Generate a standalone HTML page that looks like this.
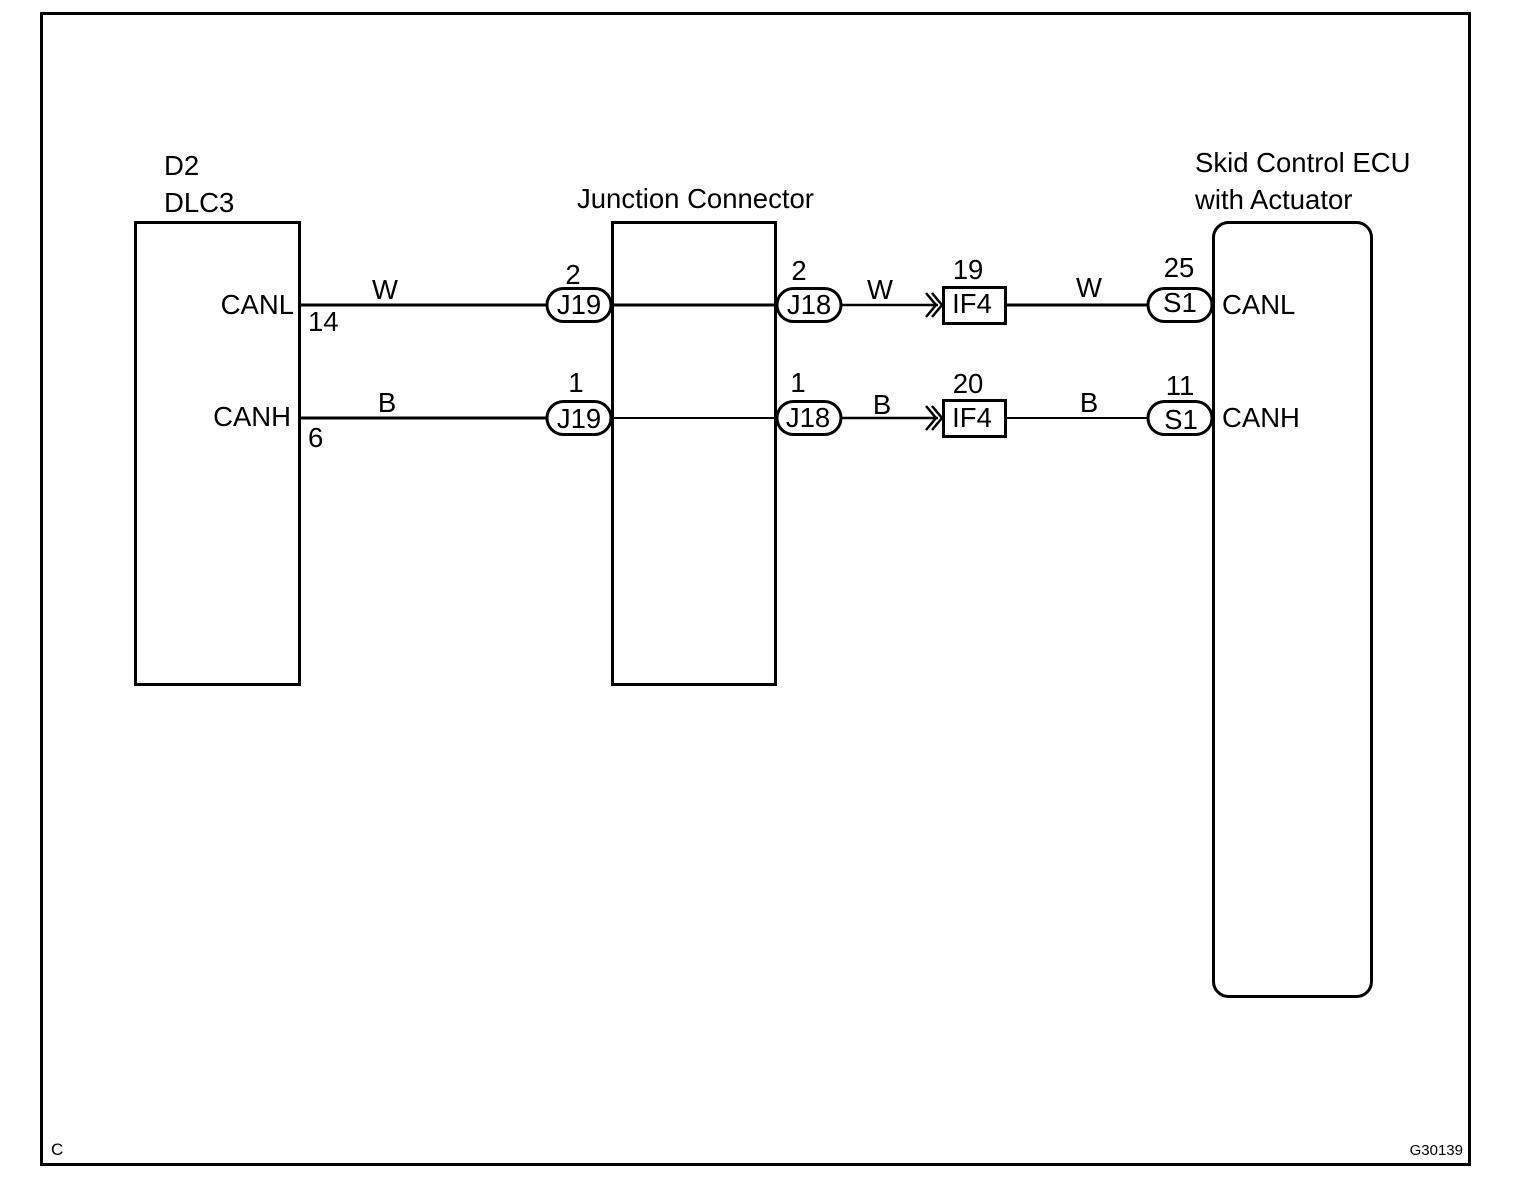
<!DOCTYPE html>
<html><head><meta charset="utf-8"><style>
html,body{margin:0;padding:0;background:#fff;}
svg{display:block;}
text{font-family:"Liberation Sans",Arial,sans-serif;fill:#000;}
</style></head><body>
<svg width="1520" height="1192" viewBox="0 0 1520 1192" xmlns="http://www.w3.org/2000/svg">
<rect x="41.5" y="13.5" width="1428" height="1151" fill="none" stroke="#000" stroke-width="3"/>
<g fill="none" stroke="#000" stroke-width="3">
<rect x="135.5" y="222.5" width="164" height="462"/>
<rect x="612.5" y="222.5" width="163" height="462"/>
<rect x="1213.5" y="222.5" width="158" height="774" rx="15" ry="15"/>
<line x1="300" y1="305" x2="546" y2="305"/>
<line x1="300" y1="418" x2="546" y2="418"/>
<line x1="612" y1="305" x2="776" y2="305"/>
<line x1="612" y1="418" x2="776" y2="418" stroke-width="2"/>
<line x1="840" y1="305" x2="938" y2="305" stroke-width="2.5"/>
<line x1="840" y1="418" x2="938" y2="418" stroke-width="2.5"/>
<line x1="1006" y1="305" x2="1148" y2="305"/>
<line x1="1006" y1="418" x2="1148" y2="418" stroke-width="2"/>
<rect x="547" y="288.5" width="64" height="33" rx="16.5"/>
<rect x="547" y="401.5" width="64" height="33" rx="16.5"/>
<rect x="777" y="288.5" width="64" height="33" rx="16.5"/>
<rect x="777" y="401.5" width="64" height="33" rx="16.5"/>
<rect x="1148" y="288.5" width="64" height="33" rx="16.5"/>
<rect x="1148" y="401.5" width="64" height="33" rx="16.5"/>
<rect x="943.5" y="287.5" width="62" height="36"/>
<rect x="943.5" y="400.5" width="62" height="36"/>
<path d="M926 293 L936 305 L926 317 M932 293 L942 305 L932 317" stroke-width="2.5"/>
<path d="M926 406 L936 418 L926 430 M932 406 L942 418 L932 430" stroke-width="2.5"/>
</g>
<g font-size="27.5">
<text x="164" y="175">D2</text>
<text x="164" y="212">DLC3</text>
<text x="577" y="208">Junction Connector</text>
<text x="1195" y="172">Skid Control ECU</text>
<text x="1195" y="209">with Actuator</text>
<text x="294" y="314" text-anchor="end">CANL</text>
<text x="291" y="426" text-anchor="end">CANH</text>
<text x="308" y="331">14</text>
<text x="308" y="447">6</text>
<text x="385" y="299" text-anchor="middle">W</text>
<text x="387" y="412" text-anchor="middle">B</text>
<text x="573" y="284" text-anchor="middle">2</text>
<text x="576" y="392" text-anchor="middle">1</text>
<text x="799" y="280" text-anchor="middle">2</text>
<text x="798" y="392" text-anchor="middle">1</text>
<text x="880" y="299" text-anchor="middle">W</text>
<text x="882" y="414" text-anchor="middle">B</text>
<text x="968" y="279" text-anchor="middle">19</text>
<text x="968" y="393" text-anchor="middle">20</text>
<text x="1089" y="297" text-anchor="middle">W</text>
<text x="1089" y="412" text-anchor="middle">B</text>
<text x="1179" y="277" text-anchor="middle">25</text>
<text x="1180" y="395" text-anchor="middle">11</text>
<text x="579" y="314" text-anchor="middle">J19</text>
<text x="579" y="428" text-anchor="middle">J19</text>
<text x="809" y="314" text-anchor="middle">J18</text>
<text x="808" y="427" text-anchor="middle">J18</text>
<text x="972" y="313" text-anchor="middle">IF4</text>
<text x="972" y="427" text-anchor="middle">IF4</text>
<text x="1180" y="312" text-anchor="middle">S1</text>
<text x="1181" y="429" text-anchor="middle">S1</text>
<text x="1222" y="314">CANL</text>
<text x="1222" y="427">CANH</text>
</g>
<text x="51" y="1155" font-size="17">C</text>
<text x="1463" y="1155" font-size="15" text-anchor="end">G30139</text>
</svg>
</body></html>
